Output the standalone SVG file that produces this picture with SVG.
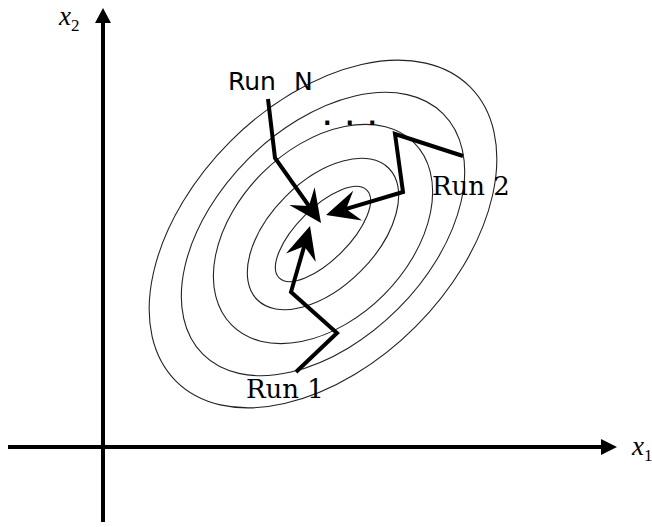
<svg xmlns="http://www.w3.org/2000/svg" width="652" height="527" viewBox="0 0 652 527">
<style>
.contour{fill:none;stroke:#222;stroke-width:1.1}
.axis{fill:none;stroke:#000;stroke-width:4}
.run{fill:none;stroke:#000;stroke-width:4;stroke-linejoin:miter}
.serif{font-family:"DejaVu Serif","Liberation Serif",serif;font-size:26px;fill:#000}
.sans{font-family:"DejaVu Sans","Liberation Sans",sans-serif;font-size:25px;fill:#000}
.mono{font-family:"DejaVu Sans Mono","Liberation Mono",monospace;font-weight:bold;font-size:24px;fill:#000}
.var{font-family:"Liberation Serif","DejaVu Serif",serif;font-style:italic;font-size:27px;fill:#000}
.sub{font-family:"Liberation Serif","DejaVu Serif",serif;font-style:normal;font-size:17px;fill:#000}
</style>
<defs>
<marker id="head" markerUnits="userSpaceOnUse" viewBox="-28 -17 38 34" refX="0" refY="0" markerWidth="38" markerHeight="34" orient="auto">
<path d="M8,0 L-25,-15.5 L-13,0 L-25,15.5 Z" fill="#000"/>
</marker>
</defs>
<g id="contours">
<g transform="rotate(-45 323 234)">
<ellipse class="contour" cx="323" cy="234" rx="208" ry="131"/>
<ellipse class="contour" cx="323" cy="234" rx="170" ry="106"/>
<ellipse class="contour" cx="323" cy="234" rx="129" ry="86"/>
<ellipse class="contour" cx="323" cy="234" rx="93" ry="53"/>
<ellipse class="contour" cx="323" cy="234" rx="62" ry="26"/>
</g>
</g>
<g id="axes">
<line class="axis" x1="8" y1="447" x2="602" y2="447"/>
<path d="M601,439 L617,447 L601,455 Z" fill="#000"/>
<line class="axis" x1="103" y1="522" x2="103" y2="22"/>
<path d="M95,23 L103,8 L111,23 Z" fill="#000"/>
<text class="var" x="59" y="25">x<tspan class="sub" dy="6">2</tspan></text>
<text class="var" x="632" y="455">x<tspan class="sub" dy="6">1</tspan></text>
</g>
<g id="connectors">
<path class="run" d="M268,99 L275,158 L316.4,216.5" marker-end="url(#head)"/>
<path class="run" d="M463,156 L395,134 L403,192 L333.7,212.7" marker-end="url(#head)"/>
<path class="run" d="M296,372 L337,333 L291,292 L307.8,233.7" marker-end="url(#head)"/>
</g>
<g id="runN"><text class="sans" x="228" y="90" word-spacing="10">Run N</text></g>
<g id="dots"><text class="mono" x="320" y="125" letter-spacing="8">...</text></g>
<g id="run2"><text class="serif" x="432" y="195">Run 2</text></g>
<g id="run1"><text class="serif" x="246" y="398">Run 1</text></g>
</svg>
